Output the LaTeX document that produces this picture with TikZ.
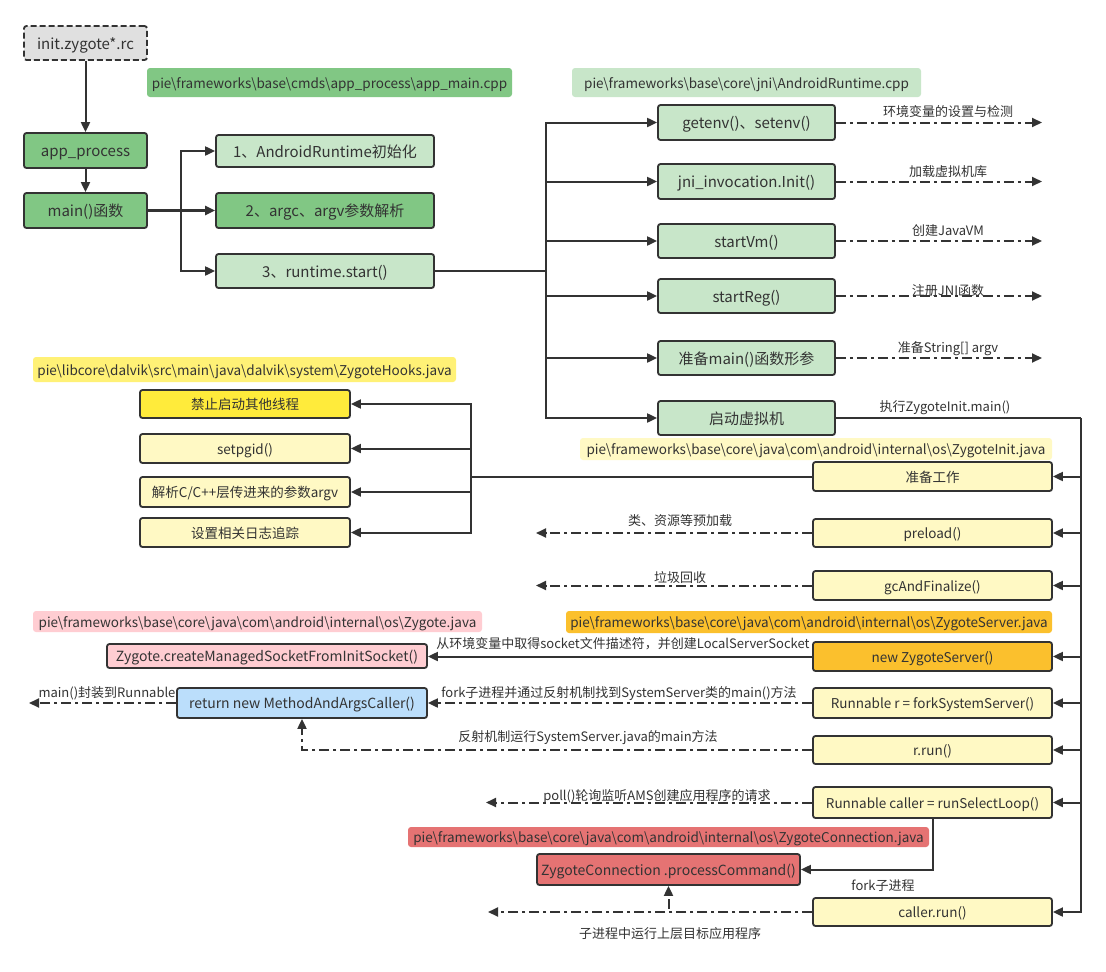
\documentclass[tikz,border=0pt]{standalone}
\usepackage{fontspec}
\setmainfont{Noto Sans CJK SC}
\usetikzlibrary{arrows.meta,calc}
\definecolor{ink}{HTML}{333333}
\definecolor{gray1}{HTML}{E0E0E0}
\definecolor{grn}{HTML}{81C784}
\definecolor{lgrn}{HTML}{C8E6C9}
\definecolor{ylw}{HTML}{FFEB3B}
\definecolor{ylwtag}{HTML}{FFF176}
\definecolor{lylw}{HTML}{FFF9C4}
\definecolor{org}{HTML}{FBC02D}
\definecolor{pink}{HTML}{FFCDD2}
\definecolor{lblue}{HTML}{BBDEFB}
\definecolor{red3}{HTML}{E57373}
\begin{document}
\begin{tikzpicture}[x=1pt,y=-1pt,
  box/.style={draw=ink, line width=1.8pt, rounded corners=2.5pt, inner sep=0pt, text=ink, align=center},
  bigt/.style={font=\fontsize{15}{17}\selectfont, text height=13.8pt, text depth=1.2pt},
  midt/.style={font=\fontsize{14}{16}\selectfont, text height=12.9pt, text depth=1.1pt},
  smt/.style={font=\fontsize{13.5}{15}\selectfont, text height=12.4pt, text depth=1.1pt},
  tag/.style={rounded corners=3pt, inner sep=0pt, text=ink, font=\fontsize{13.5}{15}\selectfont, text height=12.4pt, text depth=1.1pt},
  wire/.style={draw=ink, line width=2pt},
  conn/.style={wire, -{Triangle[length=10pt,width=9pt]}},
  dd/.style={conn, dash pattern=on 10pt off 4pt on 3pt off 4pt},
  lbl/.style={text=ink, font=\fontsize{13}{15}\selectfont, inner sep=0pt, text height=12pt, text depth=1pt},
]
\useasboundingbox (0,0) rectangle (1106,972);
\fill[white] (0,0) rectangle (1106,972);

% top-left column
\node[box, fill=gray1, dash pattern=on 6pt off 3pt, bigt, minimum width=123pt, minimum height=34pt] (init) at (85.5,43) {init.zygote*.rc};
\node[tag, fill=grn, minimum width=365pt, minimum height=29pt] (tagA) at (329.5,82.5) {pie\textbackslash frameworks\textbackslash base\textbackslash cmds\textbackslash app\_process\textbackslash app\_main.cpp};
\node[box, fill=grn, bigt, minimum width=123pt, minimum height=35pt] (app) at (85.5,150.5) {app\_process};
\node[box, fill=grn, bigt, minimum width=123pt, minimum height=35pt] (mainf) at (85.5,210.5) {main()函数};

\node[box, fill=lgrn, bigt, minimum width=218pt, minimum height=32pt] (s1) at (325,151) {1、AndroidRuntime初始化};
\node[box, fill=grn, bigt, minimum width=218pt, minimum height=35pt] (s2) at (325,210.5) {2、argc、argv参数解析};
\node[box, fill=lgrn, bigt, minimum width=218pt, minimum height=34pt] (s3) at (325,271) {3、runtime.start()};

% AndroidRuntime column
\node[tag, fill=lgrn, minimum width=349pt, minimum height=29pt] (tagB) at (746.5,82.5) {pie\textbackslash frameworks\textbackslash base\textbackslash core\textbackslash jni\textbackslash AndroidRuntime.cpp};
\node[box, fill=lgrn, bigt, minimum width=177pt, minimum height=35pt] (r1) at (746.5,122.5) {getenv()、setenv()};
\node[box, fill=lgrn, bigt, minimum width=177pt, minimum height=35pt] (r2) at (746.5,181.5) {jni\_invocation.Init()};
\node[box, fill=lgrn, bigt, minimum width=177pt, minimum height=34pt] (r3) at (746.5,241) {startVm()};
\node[box, fill=lgrn, bigt, minimum width=177pt, minimum height=34pt] (r4) at (746.5,296) {startReg()};
\node[box, fill=lgrn, bigt, minimum width=177pt, minimum height=34pt] (r5) at (746.5,358) {准备main()函数形参};
\node[box, fill=lgrn, bigt, minimum width=177pt, minimum height=34pt] (r6) at (746.5,418) {启动虚拟机};

\coordinate (e1) at (1042,122.5);
\coordinate (e2) at (1042,181.5);
\coordinate (e3) at (1042,241);
\coordinate (e4) at (1042,296);
\coordinate (e5) at (1042,358);
\node[lbl] (l1) at (948,111) {环境变量的设置与检测};
\node[lbl] (l2) at (948,171) {加载虚拟机库};
\node[lbl] (l3) at (948,230) {创建JavaVM};
\node[lbl] (l4) at (948,290) {注册JNI函数};
\node[lbl] (l5) at (948,347) {准备String[] argv};
\node[lbl] (l6) at (945,406) {执行ZygoteInit.main()};

% ZygoteHooks
\node[tag, fill=ylwtag, minimum width=423pt, minimum height=25pt] (tagC) at (244.5,369.5) {pie\textbackslash libcore\textbackslash dalvik\textbackslash src\textbackslash main\textbackslash java\textbackslash dalvik\textbackslash system\textbackslash ZygoteHooks.java};
\node[box, fill=ylw, smt, minimum width=210pt, minimum height=28pt] (h1) at (245,404) {禁止启动其他线程};
\node[box, fill=lylw, smt, minimum width=210pt, minimum height=29pt] (h2) at (245,448.5) {setpgid()};
\node[box, fill=lylw, smt, minimum width=210pt, minimum height=30pt] (h3) at (245,492) {解析C/C++层传进来的参数argv};
\node[box, fill=lylw, smt, minimum width=210pt, minimum height=29pt] (h4) at (245,532.5) {设置相关日志追踪};

% ZygoteInit column
\node[tag, fill=lylw, minimum width=472pt, minimum height=22pt] (tagD) at (816,449) {pie\textbackslash frameworks\textbackslash base\textbackslash core\textbackslash java\textbackslash com\textbackslash android\textbackslash internal\textbackslash os\textbackslash ZygoteInit.java};
\node[box, fill=lylw, smt, minimum width=239pt, minimum height=29pt] (z1) at (932.5,476.5) {准备工作};
\node[box, fill=lylw, smt, minimum width=239pt, minimum height=28pt] (z2) at (932.5,533) {preload()};
\node[box, fill=lylw, smt, minimum width=239pt, minimum height=29pt] (z3) at (932.5,585.5) {gcAndFinalize()};
\node[tag, fill=org, minimum width=486pt, minimum height=22pt] (tagE) at (809,622) {pie\textbackslash frameworks\textbackslash base\textbackslash core\textbackslash java\textbackslash com\textbackslash android\textbackslash internal\textbackslash os\textbackslash ZygoteServer.java};
\node[box, fill=org, smt, minimum width=239pt, minimum height=29pt] (z4) at (932.5,656.5) {new ZygoteServer()};
\node[box, fill=lylw, smt, minimum width=239pt, minimum height=30pt] (z5) at (932.5,703) {Runnable r = forkSystemServer()};
\node[box, fill=lylw, smt, minimum width=239pt, minimum height=28pt] (z6) at (932.5,750) {r.run()};
\node[box, fill=lylw, smt, minimum width=239pt, minimum height=31pt] (z7) at (932.5,802.5) {Runnable caller = runSelectLoop()};
\node[box, fill=lylw, smt, minimum width=239pt, minimum height=28pt] (z8) at (932.5,912) {caller.run()};

% Zygote / ZygoteConnection
\node[tag, fill=pink, minimum width=449pt, minimum height=21pt] (tagF) at (257.5,621.5) {pie\textbackslash frameworks\textbackslash base\textbackslash core\textbackslash java\textbackslash com\textbackslash android\textbackslash internal\textbackslash os\textbackslash Zygote.java};
\node[box, fill=pink, midt, minimum width=320pt, minimum height=24pt] (c1) at (267,656) {Zygote.createManagedSocketFromInitSocket()};
\node[box, fill=lblue, midt, minimum width=250pt, minimum height=30pt] (c2) at (302,703) {return new MethodAndArgsCaller()};
\node[tag, fill=red3, minimum width=521pt, minimum height=20pt] (tagG) at (668.5,837) {pie\textbackslash frameworks\textbackslash base\textbackslash core\textbackslash java\textbackslash com\textbackslash android\textbackslash internal\textbackslash os\textbackslash ZygoteConnection.java};
\node[box, fill=red3, midt, minimum width=263pt, minimum height=31pt] (c3) at (668.5,869.5) {ZygoteConnection .processCommand()};

% edge labels lower part
\node[lbl] (m1) at (680,520) {类、资源等预加载};
\node[lbl] (m2) at (680,577) {垃圾回收};
\node[lbl] (m3) at (623,643) {从环境变量中取得socket文件描述符，并创建LocalServerSocket};
\node[lbl] (m4) at (619,692) {fork子进程并通过反射机制找到SystemServer类的main()方法};
\node[lbl] (m5) at (588,736) {反射机制运行SystemServer.java的main方法};
\node[lbl] (m6) at (107,692) {main()封装到Runnable};
\node[lbl] (m7) at (657,795) {poll()轮询监听AMS创建应用程序的请求};
\node[lbl] (m8) at (883,885) {fork子进程};
\node[lbl] (m9) at (670,933) {子进程中运行上层目标应用程序};

% bus coordinates
\coordinate (bA) at (181,210.5);
\coordinate (bB) at (546,271);
\coordinate (bC) at (1081,418);
\coordinate (bD) at (471,476.5);
\coordinate (d1) at (536,533);
\coordinate (d2) at (536,585.5);
\coordinate (d3) at (29,703);
\coordinate (d4) at (486,802.5);
\coordinate (d5) at (488,912);

% connectors
\draw[conn] (init) -- (app);
\draw[conn] (app) -- (mainf);
\draw[conn, line width=3pt] (mainf.east) -- (s2.west);
\draw[conn] (bA) |- (s1.west);
\draw[conn] (bA) |- (s3.west);

\draw[wire] (s3.east) -- (bB);
\foreach \n in {r1,r2,r3,r4,r5,r6} \draw[conn] (bB) |- (\n.west);
\draw[dd] (r1.east) -- (e1);
\draw[dd] (r2.east) -- (e2);
\draw[dd] (r3.east) -- (e3);
\draw[dd] (r4.east) -- (e4);
\draw[dd] (r5.east) -- (e5);

\draw[wire] (r6.east) -- (bC);
\foreach \n in {z1,z2,z3,z4,z5,z6,z7,z8} \draw[conn] (bC) |- (\n.east);

\draw[wire] (z1.west) -- (bD);
\foreach \n in {h1,h2,h3,h4} \draw[conn] (bD) |- (\n.east);

\draw[dd] (z2.west) -- (d1);
\draw[dd] (z3.west) -- (d2);
\draw[conn] (z4.west) -- (z4.west -| c1.east);
\draw[dd] (z5.west) -- (z5.west -| c2.east);
\draw[dd] (z6.west) -| (c2.south);
\draw[dd] (c2.west) -- (d3);
\draw[dd] (z7.west) -- (d4);
\draw[conn] (z7.south) |- (c3.east);
\draw[dd] (z8.west) -- (d5);
\draw[dd] (z8.west) -| (c3.south);
\end{tikzpicture}
\end{document}
